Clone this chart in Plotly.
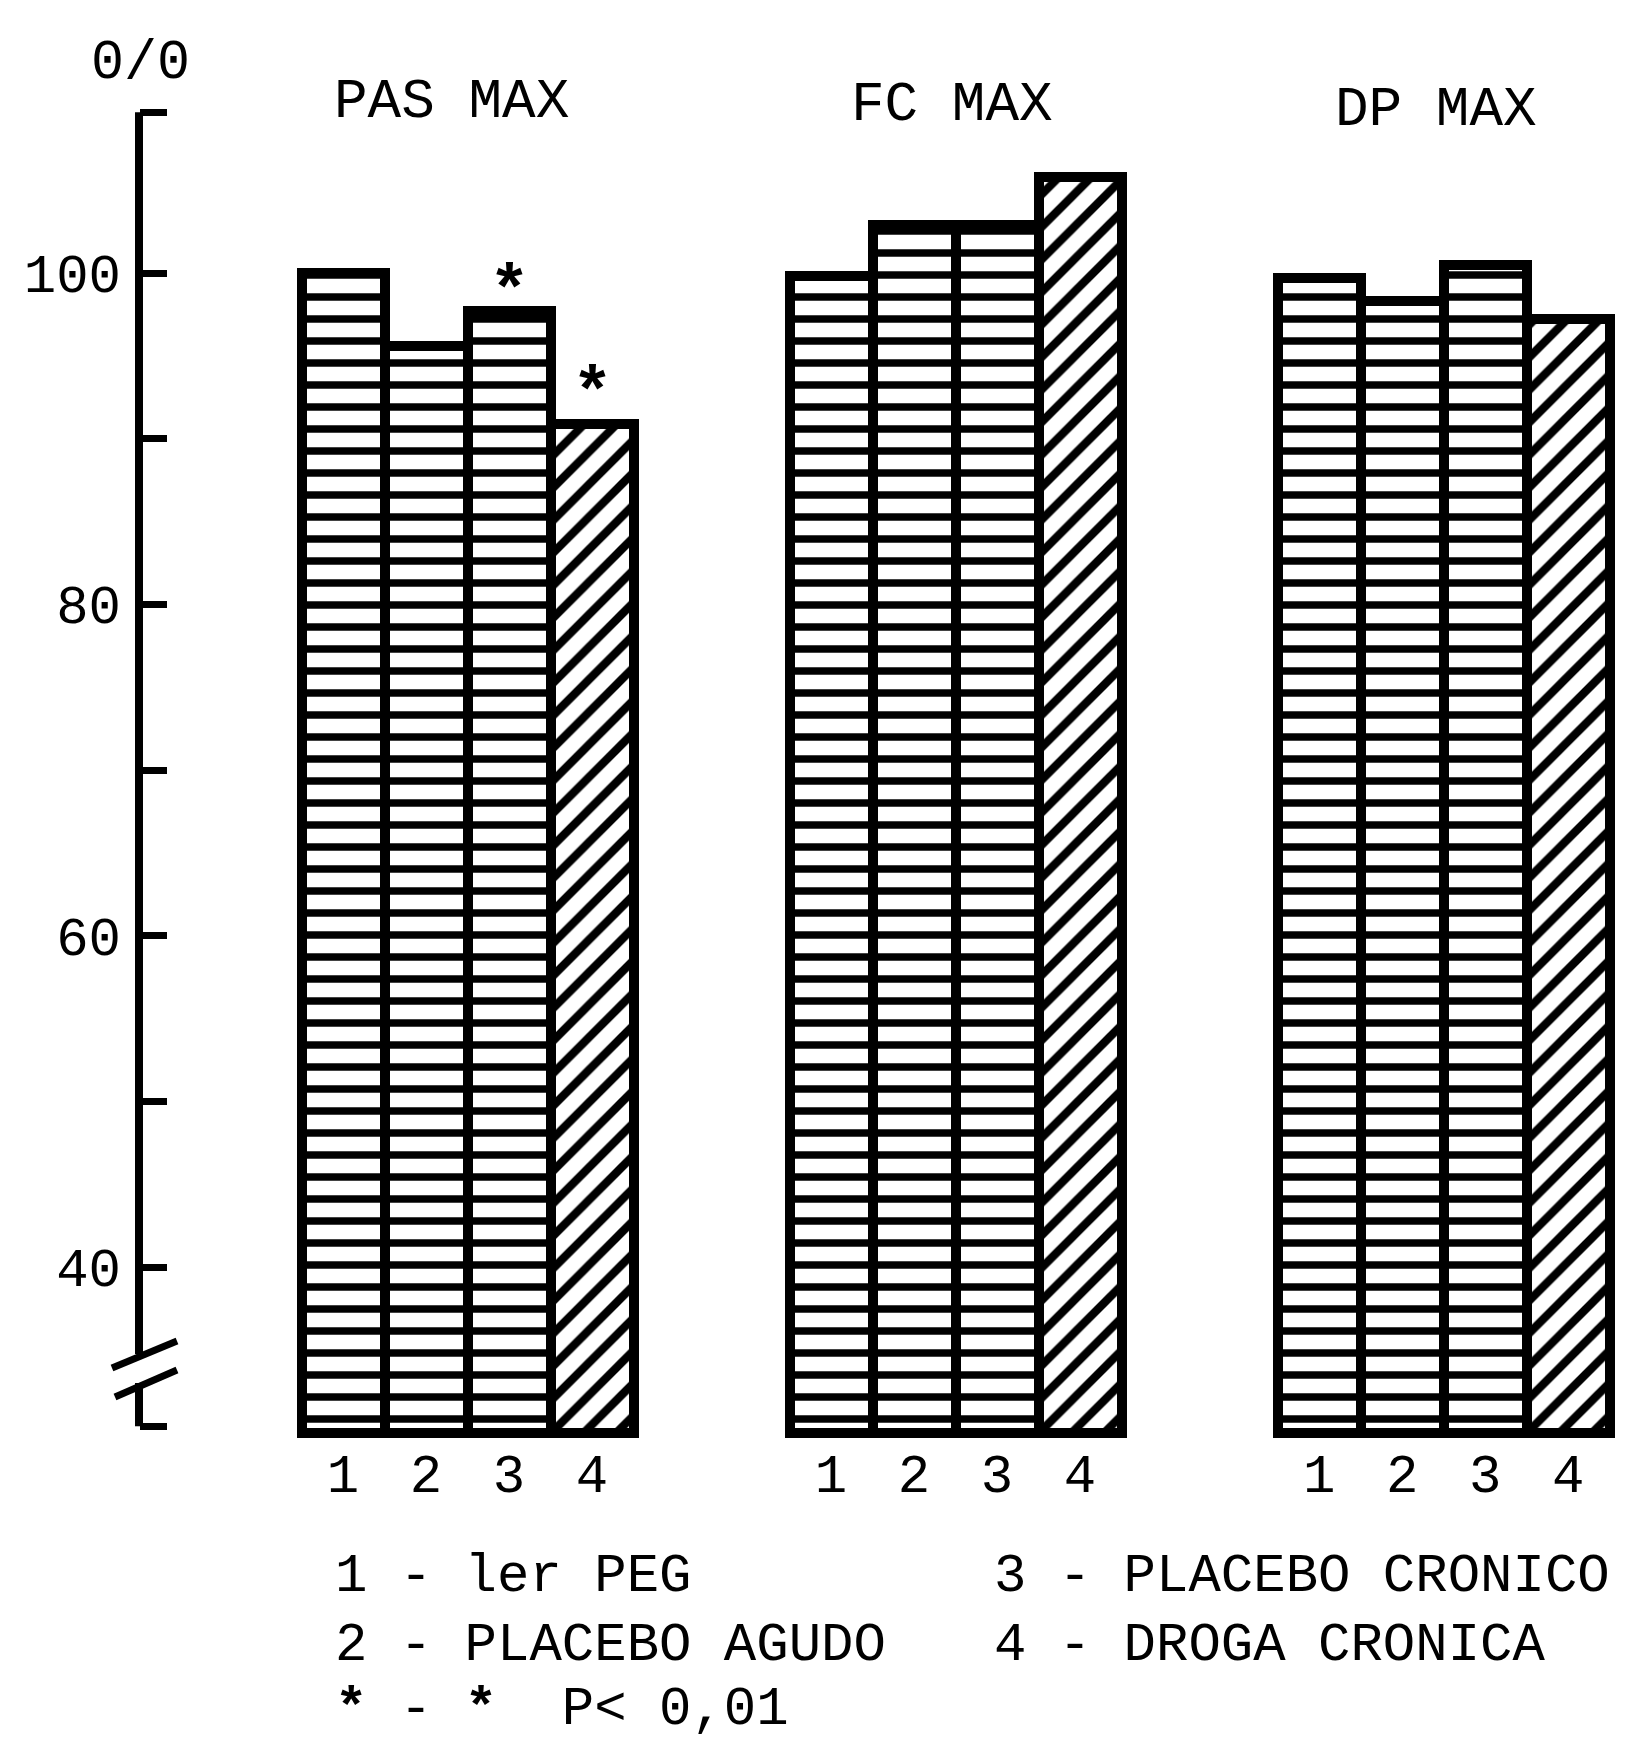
import plotly.graph_objects as go

# ---- data -------------------------------------------------------------
group_titles = ["PAS MAX", "FC MAX", "DP MAX"]
bar_labels = ["1", "2", "3", "4"]
pas_max = [100.0, 95.6, 97.7, 90.9]
fc_max = [99.8, 102.9, 102.9, 105.8]
dp_max = [99.7, 98.3, 100.5, 97.2]
series = [pas_max, fc_max, dp_max]
y_tick_vals = [40, 50, 60, 70, 80, 90, 100]
y_tick_text = ["40", "", "60", "", "80", "", "100"]
significant = [(0, 2), (0, 3)]          # (group, bar) flagged with *
star_lift_px = [26, 36]
legend_left = ["1 - ler PEG", "2 - PLACEBO AGUDO",
               "<b>*</b>\u00a0-\u00a0<b>*</b>\u00a0\u00a0P&lt;\u00a00,01"]
legend_right = ["3 - PLACEBO CRONICO", "4 - DROGA CRONICA"]

# ---- geometry ---------------------------------------------------------
W, H = 1641, 1742
FONT = "Liberation Mono"
BASE = 30.0            # bars start below the axis break
AXIS_TOP = 109.7
AXIS_BOTTOM = 30.4
PX_PER_UNIT = 16.57
Y100_PX = 273.0
BAR_PX = 83.0
X0_PX = 343.0
GROUP_GAP = 5.88
AXIS_PX = 139.0


def xd(px):
    return (px - X0_PX) / BAR_PX


def yd(py):
    return 100.0 - (py - Y100_PX) / PX_PER_UNIT


y_range = [yd(H), yd(0)]
x_range = [xd(0), xd(W)]

fig = go.Figure()

all_x, all_text = [], []
for g, vals in enumerate(series):
    xs = [g * GROUP_GAP + i for i in range(len(vals))]
    all_x += xs
    all_text += bar_labels
    fig.add_trace(go.Bar(
        x=xs,
        y=[v - BASE for v in vals],
        base=BASE,
        width=1.0,
        name=group_titles[g],
        customdata=vals,
        hovertemplate="%{customdata}<extra>" + group_titles[g] + "</extra>",
        marker=dict(
            color="white",
            line=dict(color="black", width=10),
            pattern=dict(
                shape=["-", "-", "-", "/"],
                size=[22, 22, 22, 23],
                solidity=[0.34, 0.34, 0.34, 0.36],
                fgcolor="black",
                bgcolor="white",
                fillmode="replace",
            ),
        ),
        showlegend=False,
    ))

annotations = []
# significance stars
for (g, i), lift in zip(significant, star_lift_px):
    annotations.append(dict(
        x=g * GROUP_GAP + i, y=series[g][i], xref="x", yref="y",
        text="<b>*</b>", showarrow=False, yanchor="middle", yshift=lift - 8,
        font=dict(family=FONT, size=68, color="black"),
    ))

# group titles
title_pos = [(451, 102), (952, 105), (1436, 110)]
for t, (px, py) in zip(group_titles, title_pos):
    annotations.append(dict(
        x=px / W, y=1 - py / H, xref="paper", yref="paper",
        text=t, showarrow=False, xanchor="center", yanchor="middle",
        font=dict(family=FONT, size=56, color="black"),
    ))

# unit label on top of the axis
annotations.append(dict(
    x=140 / W, y=1 - 64 / H, xref="paper", yref="paper", text="0/0",
    showarrow=False, xanchor="center", yanchor="middle",
    font=dict(family=FONT, size=55, color="black"),
))

# key
KEY_SIZE = 54
row_y = [1576, 1645, 1709]
for k, line in enumerate(legend_left):
    annotations.append(dict(
        x=333 / W, y=1 - row_y[k] / H, xref="paper", yref="paper",
        text=line, showarrow=False, xanchor="left", yanchor="middle",
        font=dict(family=FONT, size=KEY_SIZE, color="black"),
    ))
for k, line in enumerate(legend_right):
    annotations.append(dict(
        x=992 / W, y=1 - row_y[k] / H, xref="paper", yref="paper",
        text=line, showarrow=False, xanchor="left", yanchor="middle",
        font=dict(family=FONT, size=KEY_SIZE, color="black"),
    ))

# axis spine with a break
ax_x = xd(AXIS_PX)
line_style = dict(color="black", width=8)
shapes = [
    dict(type="line", xref="x", yref="y", x0=ax_x, x1=ax_x,
         y0=AXIS_TOP, y1=yd(1354), line=line_style),
    dict(type="line", xref="x", yref="y", x0=ax_x, x1=ax_x,
         y0=yd(1383), y1=AXIS_BOTTOM, line=line_style),
    dict(type="line", xref="x", yref="y", x0=xd(112), y0=yd(1368),
         x1=xd(177), y1=yd(1341), line=dict(color="black", width=7)),
    dict(type="line", xref="x", yref="y", x0=xd(115), y0=yd(1397),
         x1=xd(177), y1=yd(1370), line=dict(color="black", width=7)),
]

fig.update_layout(
    width=W, height=H,
    margin=dict(l=0, r=0, t=0, b=0, pad=0),
    paper_bgcolor="white", plot_bgcolor="white",
    bargap=0, barmode="overlay",
    annotations=annotations,
    shapes=shapes,
    xaxis=dict(
        range=x_range, anchor="free",
        position=(BASE - y_range[0]) / (y_range[1] - y_range[0]),
        tickvals=all_x, ticktext=all_text, ticks="",
        showline=False, showgrid=False, zeroline=False,
        tickfont=dict(family=FONT, size=54, color="black"),
        ticklabelstandoff=4, automargin=False, fixedrange=True,
    ),
    yaxis=dict(
        range=y_range, anchor="free", position=AXIS_PX / W, side="left",
        tickvals=[AXIS_BOTTOM] + y_tick_vals + [AXIS_TOP],
        ticktext=[""] + y_tick_text + [""],
        ticks="inside", ticklen=27, tickwidth=7, tickcolor="black",
        showline=False, showgrid=False, zeroline=False,
        tickfont=dict(family=FONT, size=54, color="black"),
        ticklabelstandoff=18, automargin=False, fixedrange=True,
    ),
)

fig.write_html("out.html")
